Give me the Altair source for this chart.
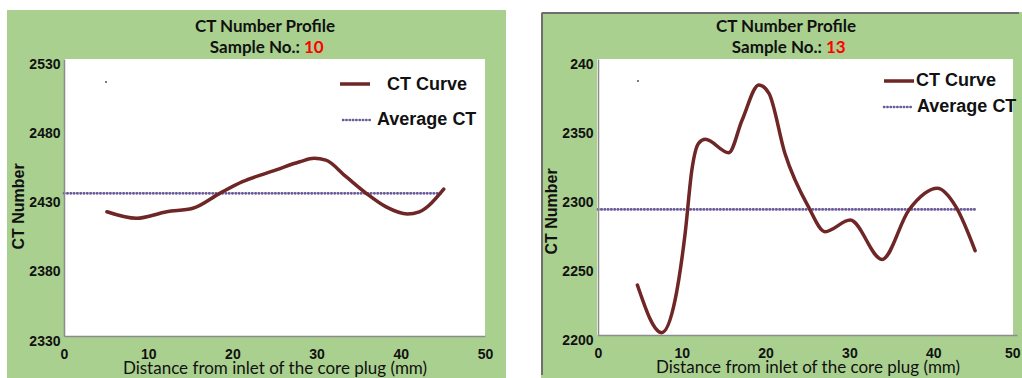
import altair as alt
import pandas as pd

# ---- data ----
# Sample No. 10
x10 = [5.1, 8.6, 12.2, 15.3, 18.5, 21.2, 25.2, 28.0, 29.7, 31.1, 33.5, 35.9, 38.2, 40.8, 42.2, 45.1]
ct10 = [2419.7, 2415.0, 2419.7, 2422.2, 2433.0, 2441.4, 2449.9, 2455.8, 2458.3, 2457.0,
        2445.0, 2433.0, 2423.4, 2418.1, 2419.7, 2436.0]
avg10 = 2433
avg_x10 = [0, 45]
yticks10 = [2330, 2380, 2430, 2480, 2530]

# Sample No. 13
x13 = [4.7, 7.6, 9.2, 10.4, 11.2, 12.0, 12.8, 15.6, 17.2, 19.2, 20.4, 22.3, 25.1, 27.1,
       30.1, 33.9, 37.1, 40.5, 42.7, 45.0]
ct13 = [2236.2, 2201.7, 2225.4, 2273.7, 2319.6, 2338.9, 2341.8, 2332.1, 2355.8, 2381.2,
        2375.1, 2331.7, 2293.0, 2274.9, 2283.3, 2254.8, 2290.6, 2306.3, 2293.0, 2261.1]
avg13 = 2291
avg_x13 = [0, 45]
yticks13 = [2200, 2250, 2300, 2350, 2400]

xticks = [0, 10, 20, 30, 40, 50]
series_names = ["CT Curve", "Average CT"]

GREEN = "#a9d08e"
CURVE = "#6e2626"
AVG = "#6a5a99"
TXT = "#111111"
ARIAL = "Liberation Sans"
CAL = "Lato"

one = pd.DataFrame({"k": [0]})


def panel(xs, ys, avg, avg_x, sample, yticks, W, H, geo, ylabel_expr=None, flush_last=False):
    curve = pd.DataFrame({"x": xs, "ct": ys})
    avgdf = pd.DataFrame({"x": avg_x, "ct": [avg] * len(avg_x)})
    xs_ = alt.Scale(domain=[0, 50], nice=False, zero=False)
    ys_ = alt.Scale(domain=[yticks[0], yticks[-1]], nice=False, zero=False)
    xargs = dict(values=xticks, title="Distance from inlet of the core plug (mm)",
                 labelFont=ARIAL, labelFontWeight="bold", labelFontSize=14, labelColor=TXT,
                 labelPadding=11, ticks=False, tickSize=0, grid=False,
                 domainColor="#8c8c8c", domainWidth=1.5, labelFlush=False,
                 labelOverlap=False, titleFont=CAL, titleFontSize=17,
                 titleFontWeight="normal", titleColor=TXT, titleBaseline="alphabetic",
                 titleY=37, zindex=1)
    if flush_last:
        xargs["labelAlign"] = {"condition": {"test": "datum.value == 50", "value": "right"},
                               "value": "center"}
        xargs["labelOffset"] = {"condition": {"test": "datum.value == 50", "value": 3},
                                "value": 0}
    xaxis = alt.Axis(**xargs)
    yargs = dict(values=yticks, format="d", title="CT Number", labelFont=ARIAL,
                 labelFontWeight="bold", labelFontSize=14, labelColor=TXT,
                 labelPadding=geo["lpad"], labelOffset=5,
                 ticks=False, tickSize=0, grid=False, domainColor="#8c8c8c", domainWidth=1.5,
                 labelFlush=False, labelOverlap=False, titleFont=ARIAL, titleFontSize=16,
                 titleFontWeight="bold", titleColor=TXT, titleAngle=270, titleX=geo["tx"],
                 titleY=geo["ty"], titleAlign="center", titleBaseline="middle", zindex=1)
    if ylabel_expr:
        yargs["labelExpr"] = ylabel_expr
    yaxis = alt.Axis(**yargs)

    base = alt.Chart(one)
    layers = []
    # panel background
    layers.append(base.mark_rect(fill=GREEN).encode(
        x=alt.value(geo["gx"][0]), x2=alt.value(geo["gx"][1]),
        y=alt.value(geo["gy"][0]), y2=alt.value(geo["gy"][1])))
    if geo["border"]:
        layers.append(base.mark_rule(color=geo["border"], strokeWidth=2).encode(
            x=alt.value(geo["gx"][0] + 1), x2=alt.value(geo["gx"][1] - 3),
            y=alt.value(geo["gy"][0] + 1)))
        layers.append(base.mark_rule(color=geo["border"], strokeWidth=2).encode(
            x=alt.value(geo["gx"][0] + 1), y=alt.value(geo["gy"][0] + 1),
            y2=alt.value(geo["gy"][1] - 3)))
    layers.append(base.mark_rect(fill="white").encode(
        x=alt.value(geo["px"][0]), x2=alt.value(geo["px"][1]),
        y=alt.value(0), y2=alt.value(H)))
    avg_line = alt.Chart(avgdf).mark_line(color=AVG, strokeWidth=2.7, strokeDash=[0.4, 2.9],
                                          strokeCap="round").encode(
        x=alt.X("x:Q", scale=xs_, axis=xaxis), y=alt.Y("ct:Q", scale=ys_, axis=yaxis))
    layers.append(avg_line)
    ct_line = alt.Chart(curve).mark_line(color=CURVE, strokeWidth=3.5, interpolate="monotone",
                                         strokeCap="round").encode(
        x=alt.X("x:Q", scale=xs_, axis=xaxis), y=alt.Y("ct:Q", scale=ys_, axis=yaxis))
    layers.append(ct_line)
    # legend
    lg = geo["legend"]
    layers.append(base.mark_rule(color=CURVE, strokeWidth=3.5).encode(
        x=alt.value(lg["l1"][0]), x2=alt.value(lg["l1"][1]), y=alt.value(lg["l1"][2])))
    layers.append(base.mark_rule(color=AVG, strokeWidth=2.5, strokeDash=[0.4, 2.9],
                                 strokeCap="round").encode(
        x=alt.value(lg["l2"][0]), x2=alt.value(lg["l2"][1]), y=alt.value(lg["l2"][2])))
    layers.append(base.mark_text(align="left", baseline="middle", font=ARIAL, fontSize=18,
                                 fontWeight="bold", color=TXT).encode(
        x=alt.value(lg["t1"][0]), y=alt.value(lg["t1"][1]), text=alt.value(series_names[0])))
    layers.append(base.mark_text(align="left", baseline="middle", font=ARIAL, fontSize=18,
                                 fontWeight="bold", color=TXT).encode(
        x=alt.value(lg["t2"][0]), y=alt.value(lg["t2"][1]), text=alt.value(series_names[1])))
    # titles
    t = geo["title"]
    layers.append(base.mark_text(align="center", baseline="middle", font=CAL, fontSize=17,
                                 fontWeight="bold", color=TXT).encode(
        x=alt.value(t[0]), y=alt.value(-32), text=alt.value("CT Number Profile")))
    layers.append(base.mark_text(align="right", baseline="middle", font=CAL, fontSize=17,
                                 fontWeight="bold", color=TXT).encode(
        x=alt.value(t[1]), y=alt.value(-11), text=alt.value("Sample No.:")))
    layers.append(base.mark_text(align="left", baseline="middle", font=CAL, fontSize=17,
                                 fontWeight="bold", color="#ff0000").encode(
        x=alt.value(t[2]), y=alt.value(-11), text=alt.value(sample)))
    # small speck
    layers.append(base.mark_square(size=3, color="#000000", opacity=0.8).encode(
        x=alt.value(geo["dot"][0]), y=alt.value(geo["dot"][1])))
    return alt.layer(*layers).properties(width=W, height=H)


geo10 = dict(gx=[-57, 442], gy=[-49, 319], border=None, px=[0, 421],
             lpad=4, tx=-46, ty=147,
             legend=dict(l1=[276, 306, 25], l2=[279, 307, 61], t1=[323, 26], t2=[313, 61]),
             title=[201, 236, 240], dot=[42, 23])
geo13 = dict(gx=[-57, 424], gy=[-47, 319], border="#6f6f6f", px=[-1, 415],
             lpad=5, tx=-47, ty=152,
             legend=dict(l1=[286, 316, 22], l2=[286, 313, 48], t1=[318, 22], t2=[319, 48]),
             title=[188, 224, 228], dot=[40, 22])

left = panel(x10, ct10, avg10, avg_x10, "10", yticks10, 421, 277, geo10)
right = panel(x13, ct13, avg13, avg_x13, "13", yticks13, 419, 276, geo13,
              ylabel_expr="datum.value == 2400 ? '240' : datum.label", flush_last=True)

chart = alt.hconcat(left, right, spacing=113, bounds="flush").resolve_scale(
    x="independent", y="independent"
).properties(
    padding={"left": 7, "top": 10, "right": 0, "bottom": 0},
    background="white",
).configure_view(strokeWidth=0)

chart.save("out.html", embed_options={"renderer": "svg", "actions": False})
